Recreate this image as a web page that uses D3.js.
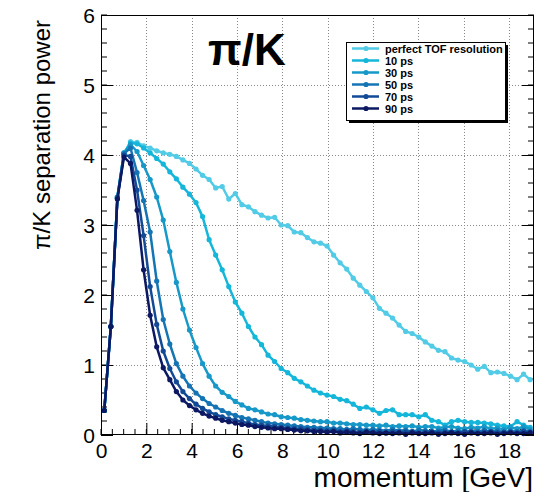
<!DOCTYPE html>
<html>
<head>
<meta charset="utf-8">
<script src="https://cdn.jsdelivr.net/npm/d3@7"></script>
<style>
  html, body { margin: 0; padding: 0; background: #fff; }
  svg { display: block; font-family: "Liberation Sans", Arial, Helvetica, sans-serif; }
</style>
</head>
<body>
<svg id="chart" width="539" height="492"></svg>
<script>
// momentum bin centres [GeV]
const momentum = [0.145, 0.434, 0.723, 1.012, 1.301, 1.590, 1.879, 2.168, 2.457, 2.746,
  3.035, 3.324, 3.613, 3.902, 4.191, 4.480, 4.769, 5.058, 5.347, 5.636,
  5.925, 6.214, 6.503, 6.792, 7.081, 7.370, 7.659, 7.948, 8.237, 8.526,
  8.815, 9.104, 9.393, 9.682, 9.971, 10.260, 10.549, 10.838, 11.127, 11.416,
  11.705, 11.994, 12.283, 12.572, 12.861, 13.150, 13.439, 13.728, 14.017, 14.306,
  14.595, 14.884, 15.173, 15.462, 15.751, 16.040, 16.329, 16.618, 16.907, 17.196,
  17.485, 17.774, 18.063, 18.352, 18.641, 18.930];

// pi/K separation power for each TOF resolution
const sepPerfect = [0.35, 1.55, 3.40, 4.02, 4.19, 4.18, 4.13, 4.10, 4.06, 4.03,
  4.01, 3.98, 3.93, 3.88, 3.80, 3.71, 3.65, 3.53, 3.55, 3.37,
  3.45, 3.29, 3.26, 3.19, 3.14, 3.10, 3.11, 3.00, 2.99, 2.90,
  2.89, 2.82, 2.76, 2.74, 2.70, 2.57, 2.46, 2.37, 2.24, 2.14,
  2.05, 1.96, 1.81, 1.74, 1.67, 1.57, 1.48, 1.45, 1.40, 1.33,
  1.27, 1.21, 1.19, 1.10, 1.07, 1.05, 1.00, 0.94, 0.98, 0.89,
  0.90, 0.88, 0.84, 0.79, 0.87, 0.79];
const sep10ps = [0.35, 1.55, 3.40, 4.03, 4.17, 4.16, 4.10, 4.03, 3.95, 3.87,
  3.76, 3.66, 3.54, 3.44, 3.32, 3.12, 2.79, 2.57, 2.36, 2.12,
  1.90, 1.74, 1.55, 1.40, 1.29, 1.14, 1.05, 0.95, 0.89, 0.81,
  0.76, 0.70, 0.64, 0.60, 0.57, 0.55, 0.51, 0.49, 0.44, 0.38,
  0.40, 0.36, 0.31, 0.35, 0.36, 0.29, 0.29, 0.29, 0.26, 0.29,
  0.21, 0.19, 0.14, 0.19, 0.21, 0.19, 0.18, 0.18, 0.17, 0.16,
  0.14, 0.13, 0.12, 0.19, 0.14, 0.11];
const sep30ps = [0.35, 1.55, 3.40, 4.03, 4.15, 4.05, 3.85, 3.65, 3.40, 3.07,
  2.62, 2.18, 1.80, 1.50, 1.25, 1.02, 0.84, 0.70, 0.61, 0.55,
  0.48, 0.43, 0.38, 0.36, 0.33, 0.30, 0.29, 0.26, 0.25, 0.24,
  0.22, 0.21, 0.20, 0.19, 0.19, 0.17, 0.17, 0.16, 0.15, 0.15,
  0.14, 0.14, 0.13, 0.14, 0.12, 0.13, 0.12, 0.13, 0.11, 0.12,
  0.12, 0.10, 0.11, 0.12, 0.10, 0.09, 0.11, 0.10, 0.12, 0.09,
  0.10, 0.08, 0.11, 0.09, 0.12, 0.08];
const sep50ps = [0.35, 1.55, 3.39, 4.02, 4.10, 3.75, 3.35, 2.90, 2.20, 1.65,
  1.30, 1.02, 0.84, 0.70, 0.60, 0.52, 0.45, 0.40, 0.35, 0.31,
  0.28, 0.25, 0.23, 0.21, 0.19, 0.17, 0.16, 0.15, 0.14, 0.13,
  0.12, 0.11, 0.11, 0.10, 0.10, 0.09, 0.09, 0.08, 0.09, 0.08,
  0.07, 0.08, 0.07, 0.06, 0.08, 0.06, 0.07, 0.05, 0.07, 0.06,
  0.05, 0.06, 0.07, 0.05, 0.06, 0.04, 0.06, 0.05, 0.07, 0.05,
  0.06, 0.04, 0.06, 0.05, 0.07, 0.05];
const sep70ps = [0.35, 1.55, 3.38, 4.00, 3.98, 3.50, 2.85, 2.12, 1.58, 1.20,
  0.95, 0.76, 0.62, 0.52, 0.44, 0.38, 0.33, 0.29, 0.26, 0.23,
  0.21, 0.19, 0.17, 0.15, 0.14, 0.13, 0.12, 0.11, 0.10, 0.09,
  0.09, 0.08, 0.07, 0.07, 0.06, 0.07, 0.05, 0.06, 0.05, 0.04,
  0.05, 0.04, 0.05, 0.03, 0.05, 0.04, 0.04, 0.05, 0.03, 0.04,
  0.05, 0.03, 0.04, 0.04, 0.03, 0.05, 0.04, 0.03, 0.04, 0.05,
  0.03, 0.04, 0.04, 0.03, 0.05, 0.04];
const sep90ps = [0.35, 1.55, 3.37, 3.97, 3.88, 3.21, 2.36, 1.71, 1.26, 0.96,
  0.79, 0.62, 0.50, 0.42, 0.36, 0.31, 0.27, 0.24, 0.21, 0.19,
  0.17, 0.15, 0.14, 0.12, 0.11, 0.10, 0.09, 0.09, 0.08, 0.07,
  0.06, 0.06, 0.05, 0.05, 0.04, 0.05, 0.03, 0.04, 0.03, 0.02,
  0.04, 0.03, 0.02, 0.03, 0.02, 0.03, 0.01, 0.03, 0.02, 0.02,
  0.03, 0.01, 0.02, 0.03, 0.02, 0.01, 0.03, 0.02, 0.02, 0.03,
  0.01, 0.02, 0.03, 0.02, 0.02, 0.03];

const seriesNames = ["perfect TOF resolution", "10 ps", "30 ps", "50 ps", "70 ps", "90 ps"];
const seriesValues = [sepPerfect, sep10ps, sep30ps, sep50ps, sep70ps, sep90ps];
const seriesColors = ["#52cbe6", "#14b6da", "#1699c9", "#1475b4", "#124a96", "#0c1862"];

const xTickValues = [0, 2, 4, 6, 8, 10, 12, 14, 16, 18];
const yTickValues = [0, 1, 2, 3, 4, 5, 6];

const svg = d3.select("#chart");
const frame = { left: 101, right: 534, top: 15, bottom: 435 };

const x = d3.scaleLinear().domain([0, 19.1]).range([frame.left, frame.right]);
const y = d3.scaleLinear().domain([0, 6]).range([frame.bottom, frame.top]);

// grid
const grid = svg.append("g").attr("stroke", "#8a8a8a").attr("stroke-width", 1)
  .attr("stroke-dasharray", "1,2");
grid.selectAll("line.gx").data(xTickValues.filter(v => v > 0)).join("line")
  .attr("x1", d => Math.round(x(d)) + 0.5).attr("x2", d => Math.round(x(d)) + 0.5)
  .attr("y1", frame.top).attr("y2", frame.bottom);
grid.selectAll("line.gy").data(yTickValues.filter(v => v > 0 && v < 6)).join("line")
  .attr("y1", d => Math.round(y(d)) + 0.5).attr("y2", d => Math.round(y(d)) + 0.5)
  .attr("x1", frame.left).attr("x2", frame.right);

// axes
const xMinor = d3.range(0, 19.1, 0.5);
const yMinor = d3.range(0, 6.001, 0.2);

const bottomAxis = svg.append("g").attr("transform", `translate(0,${frame.bottom})`)
  .call(d3.axisBottom(x).tickValues(xTickValues).tickSize(-12).tickPadding(8)
    .tickFormat(d3.format("d")));
bottomAxis.select(".domain").remove();
bottomAxis.selectAll("text").attr("font-size", 21).attr("fill", "#000")
  .attr("font-family", "Liberation Sans, Arial, sans-serif");
bottomAxis.selectAll("line").attr("stroke", "#000");
svg.append("g").selectAll("line").data(xMinor).join("line")
  .attr("x1", d => x(d)).attr("x2", d => x(d))
  .attr("y1", frame.bottom).attr("y2", frame.bottom - 6).attr("stroke", "#000");

const leftAxis = svg.append("g").attr("transform", `translate(${frame.left},0)`)
  .call(d3.axisLeft(y).tickValues(yTickValues).tickSize(-12).tickPadding(6)
    .tickFormat(d3.format("d")));
leftAxis.select(".domain").remove();
leftAxis.selectAll("text").attr("font-size", 21).attr("fill", "#000")
  .attr("font-family", "Liberation Sans, Arial, sans-serif").attr("dy", "0.36em");
leftAxis.selectAll("line").attr("stroke", "#000");
svg.append("g").selectAll("line").data(yMinor).join("line")
  .attr("x1", frame.left).attr("x2", frame.left + 6)
  .attr("y1", d => y(d)).attr("y2", d => y(d)).attr("stroke", "#000");

// mirrored ticks on the right edge
const rightAxis = svg.append("g").attr("transform", `translate(${frame.right},0)`)
  .call(d3.axisRight(y).tickValues(yTickValues).tickSize(-12).tickFormat(""));
rightAxis.select(".domain").remove();
rightAxis.selectAll("line").attr("stroke", "#000");
svg.append("g").selectAll("line").data(yMinor).join("line")
  .attr("x1", frame.right).attr("x2", frame.right - 6)
  .attr("y1", d => y(d)).attr("y2", d => y(d)).attr("stroke", "#000");

// curves
const line = d3.line().x((d, i) => x(momentum[i])).y(d => y(d));
const curves = svg.append("g");
seriesValues.forEach((vals, s) => {
  const g = curves.append("g");
  g.append("path").datum(vals).attr("d", line)
    .attr("fill", "none").attr("stroke", seriesColors[s]).attr("stroke-width", 2.5)
    .attr("stroke-linejoin", "round");
  g.selectAll("circle").data(vals).join("circle")
    .attr("cx", (d, i) => x(momentum[i])).attr("cy", d => y(d)).attr("r", 2.6)
    .attr("fill", seriesColors[s]);
});

// frame
svg.append("rect").attr("x", frame.left + 0.5).attr("y", frame.top + 0.5)
  .attr("width", frame.right - frame.left - 1).attr("height", frame.bottom - frame.top - 1)
  .attr("fill", "none").attr("stroke", "#000").attr("stroke-width", 1);

// axis titles
svg.append("text").attr("x", 533).attr("y", 487).attr("text-anchor", "end")
  .attr("font-size", 28).text("momentum [GeV]");
svg.append("text").attr("transform", "translate(50,20) rotate(-90)")
  .attr("text-anchor", "end").attr("font-size", 24).text("π/K separation power");

// plot title
svg.append("text").attr("x", 208).attr("y", 65).attr("font-size", 44)
  .attr("font-weight", "bold").text("π/K");

// legend
const lg = { x: 346, y: 42, w: 159, h: 78 };
svg.append("rect").attr("x", lg.x + 3).attr("y", lg.y + 3).attr("width", lg.w).attr("height", lg.h)
  .attr("fill", "#000");
svg.append("rect").attr("x", lg.x + 0.5).attr("y", lg.y + 0.5).attr("width", lg.w).attr("height", lg.h)
  .attr("fill", "#fff").attr("stroke", "#000");
const rowY = d3.scalePoint().domain(seriesNames).range([lg.y + 6.5, lg.y + 66.5]);
const legendRows = svg.append("g").selectAll("g").data(seriesNames).join("g")
  .attr("transform", d => `translate(0,${rowY(d)})`);
legendRows.append("line").attr("x1", 352).attr("x2", 379).attr("y1", 0).attr("y2", 0)
  .attr("stroke", (d, i) => seriesColors[i]).attr("stroke-width", 2.5);
legendRows.append("circle").attr("cx", 366).attr("cy", 0).attr("r", 2.6)
  .attr("fill", (d, i) => seriesColors[i]);
legendRows.append("text").attr("x", 385).attr("y", 4).attr("font-size", 11)
  .attr("font-weight", "bold").text(d => d);
</script>
</body>
</html>
